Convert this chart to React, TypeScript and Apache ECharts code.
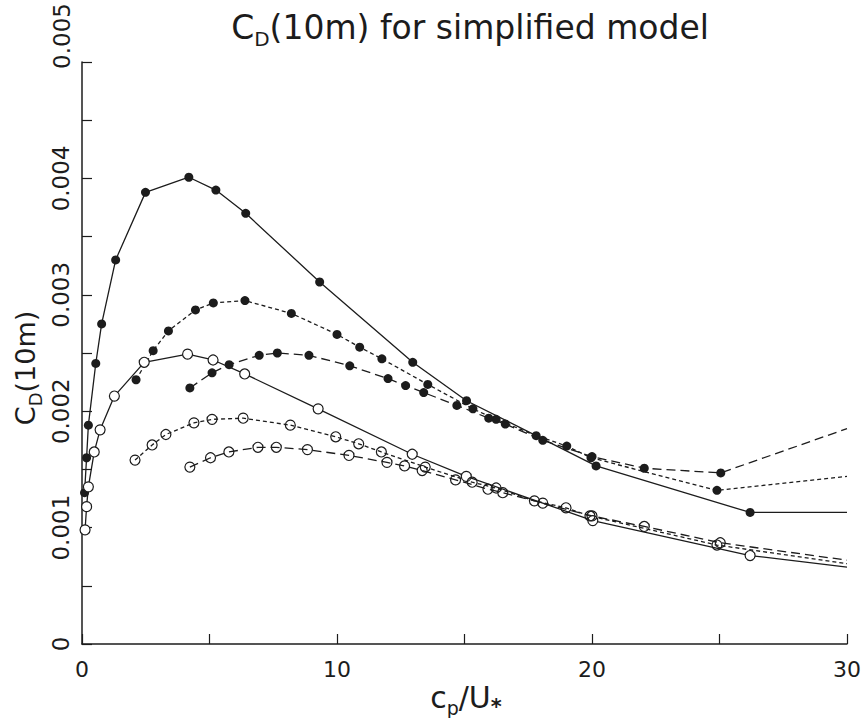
import React, { useEffect, useRef } from "react";
import * as echarts from "echarts";

// ---- Data (c_p/U*, C_D(10m)) ----
const filledSolid: [number, number][] = [
  [0.1, 0.0013], [0.18, 0.0016], [0.25, 0.00188], [0.54, 0.00241], [0.77, 0.00275],
  [1.32, 0.0033], [2.49, 0.00388], [4.19, 0.00401], [5.25, 0.0039], [6.42, 0.0037],
  [9.32, 0.00311], [12.97, 0.00242], [15.08, 0.00209], [20.16, 0.00153], [26.2, 0.00113],
];
const filledSolidEnd: [number, number] = [30, 0.00113];

const filledDotted: [number, number][] = [
  [2.12, 0.00227], [2.79, 0.00252], [3.39, 0.00269], [4.45, 0.00287], [5.15, 0.00293],
  [6.39, 0.00295], [8.21, 0.00284], [10.0, 0.00266], [10.89, 0.00255], [11.76, 0.00245],
  [13.56, 0.00223], [15.33, 0.00202], [16.24, 0.00193], [17.81, 0.00179], [19.01, 0.0017],
  [19.96, 0.0016], [24.9, 0.00132],
];
const filledDottedEnd: [number, number] = [30, 0.00144];

const filledDashed: [number, number][] = [
  [4.23, 0.0022], [5.1, 0.00233], [5.77, 0.0024], [6.95, 0.00248], [7.66, 0.0025],
  [8.9, 0.00248], [10.5, 0.00239], [12.0, 0.00228], [12.69, 0.00222], [13.4, 0.00216],
  [14.7, 0.00205], [15.95, 0.00194], [16.6, 0.00189], [18.07, 0.00175], [20.0, 0.00161],
  [22.05, 0.00151], [25.05, 0.00147],
];
const filledDashedEnd: [number, number] = [30, 0.00185];

const openSolid: [number, number][] = [
  [0.12, 0.00098], [0.18, 0.00118], [0.25, 0.00135], [0.48, 0.00165], [0.71, 0.00184],
  [1.27, 0.00213], [2.44, 0.00242], [4.14, 0.00249], [5.14, 0.00244], [6.38, 0.00232],
  [9.26, 0.00202], [12.95, 0.00163], [15.07, 0.00144], [20.03, 0.00106], [26.2, 0.00076],
];
const openSolidEnd: [number, number] = [30, 0.00066];

const openDotted: [number, number][] = [
  [2.08, 0.00158], [2.75, 0.00171], [3.29, 0.0018], [4.39, 0.0019], [5.1, 0.00193],
  [6.32, 0.00194], [8.17, 0.00188], [9.95, 0.00178], [10.85, 0.00172], [11.74, 0.00165],
  [13.46, 0.00152], [15.3, 0.00139], [16.24, 0.00134], [17.74, 0.00123], [18.98, 0.00117],
  [19.92, 0.0011], [24.9, 0.00085],
];
const openDottedEnd: [number, number] = [30, 0.00069];

const openDashed: [number, number][] = [
  [4.23, 0.00152], [5.04, 0.0016], [5.76, 0.00165], [6.9, 0.00169], [7.62, 0.00169],
  [8.84, 0.00167], [10.47, 0.00162], [11.96, 0.00156], [12.65, 0.00153], [13.34, 0.00149],
  [14.65, 0.00141], [15.92, 0.00133], [16.5, 0.0013], [18.07, 0.00121], [20.0, 0.0011],
  [22.05, 0.00101], [25.03, 0.00087],
];
const openDashedEnd: [number, number] = [30, 0.00072];

const xTickLabels = ["0", "10", "20", "30"];
const yTickLabels = ["0", "0.001", "0.002", "0.003", "0.004"];
const yTopLabel = "0.005";

const INK = "#1c1c1c";
const FONT = "DejaVu Sans";

function makeSeries(
  name: string,
  pts: [number, number][],
  end: [number, number],
  dash: any,
  filled: boolean,
  whiteFill: boolean
) {
  const data: any[] = pts.map((p) => ({ value: p }));
  data.push({ value: end, symbol: "none" });
  return {
    type: "line",
    name,
    data,
    symbol: "circle",
    symbolSize: filled ? 9 : 10,
    silent: true,
    lineStyle: { color: INK, width: 1.3, type: dash },
    itemStyle: filled
      ? { color: INK, borderColor: INK, borderWidth: 0 }
      : { color: whiteFill ? "#ffffff" : "rgba(255,255,255,0)", borderColor: INK, borderWidth: 1.2 },
    emphasis: { disabled: true },
  };
}

// big text top-aligned, subscript bottom-aligned in a taller box so it drops below the baseline
function richSet(big: number, small: number, subBox: number) {
  return {
    a: { fontFamily: FONT, fontSize: big, lineHeight: big, fill: INK, verticalAlign: "top" },
    s: { fontFamily: FONT, fontSize: small, lineHeight: subBox, fill: INK, verticalAlign: "bottom" },
    t: {
      fontFamily: FONT,
      fontSize: small + 2,
      fontWeight: "bold",
      lineHeight: subBox,
      fill: INK,
      verticalAlign: "bottom",
    },
  };
}

export default function App() {
  const ref = useRef<HTMLDivElement>(null);
  useEffect(() => {
    if (!ref.current) return;
    const chart = echarts.init(ref.current, undefined, { renderer: "svg" });
    const short = [4, 3];
    const long = [9, 5];
    chart.setOption({
      animation: false,
      backgroundColor: "#ffffff",
      grid: { left: 82, right: 16, top: 62, bottom: 74, containLabel: false },
      xAxis: {
        type: "value",
        min: 0,
        max: 30,
        interval: 5,
        axisLine: { show: true, lineStyle: { color: INK, width: 1.5 } },
        axisTick: { show: true, inside: true, length: 10, lineStyle: { color: INK, width: 1.2 } },
        splitLine: { show: false },
        axisLabel: {
          margin: 14,
          color: INK,
          fontFamily: FONT,
          fontSize: 22,
          formatter: (v: number) => {
            const s = String(Math.round(v));
            return xTickLabels.includes(s) ? s : "";
          },
        },
      },
      yAxis: {
        type: "value",
        min: 0,
        max: 0.005,
        interval: 0.0005,
        axisLine: { show: true, lineStyle: { color: INK, width: 1.5 } },
        axisTick: { show: true, inside: true, length: 10, lineStyle: { color: INK, width: 1.2 } },
        splitLine: { show: false },
        axisLabel: {
          margin: 10,
          rotate: 90,
          color: INK,
          fontFamily: FONT,
          fontSize: 23,
          formatter: (v: number) => {
            const s = v === 0 ? "0" : v.toFixed(3);
            const k = Math.round(v * 10000);
            return k % 10 === 0 && yTickLabels.includes(s) ? s : "";
          },
        },
      },
      graphic: [
        {
          type: "text",
          x: 62,
          y: 36,
          rotation: Math.PI / 2,
          silent: true,
          style: {
            text: yTopLabel,
            align: "center",
            verticalAlign: "middle",
            fill: INK,
            font: `23px "${FONT}"`,
          },
        },
        {
          type: "text",
          x: 470,
          y: 30,
          silent: true,
          style: {
            text: "{a|C}{s|D}{a|(10m) for simplified model}",
            align: "center",
            verticalAlign: "middle",
            fill: INK,
            rich: richSet(33, 20, 38),
          },
        },
        {
          type: "text",
          x: 28,
          y: 368,
          rotation: Math.PI / 2,
          silent: true,
          style: {
            text: "{a|C}{s|D}{a|(10m)}",
            align: "center",
            verticalAlign: "middle",
            fill: INK,
            rich: richSet(27, 18, 32),
          },
        },
        {
          type: "text",
          x: 466,
          y: 700,
          silent: true,
          style: {
            text: "{a|c}{s|p}{a|/U}{t|*}",
            align: "center",
            verticalAlign: "middle",
            fill: INK,
            rich: richSet(30, 19, 35),
          },
        },
      ],
      series: [
        makeSeries("filledSolid", filledSolid, filledSolidEnd, "solid", true, false),
        makeSeries("filledDotted", filledDotted, filledDottedEnd, short, true, false),
        makeSeries("filledDashed", filledDashed, filledDashedEnd, long, true, false),
        makeSeries("openSolid", openSolid, openSolidEnd, "solid", false, true),
        makeSeries("openDotted", openDotted, openDottedEnd, short, false, false),
        makeSeries("openDashed", openDashed, openDashedEnd, long, false, false),
      ],
    });
    return () => chart.dispose();
  }, []);
  return (
    <div
      ref={ref}
      style={{ position: "fixed", left: 0, top: 0, width: 864, height: 718, background: "#fff" }}
    />
  );
}
